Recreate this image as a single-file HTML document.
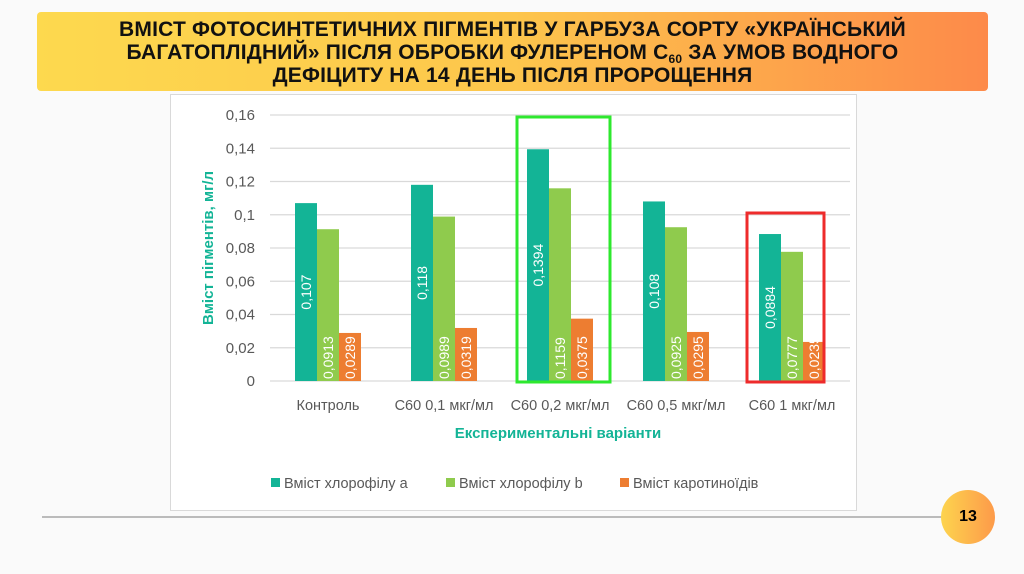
<!DOCTYPE html>
<html><head><meta charset="utf-8"><style>
body{margin:0;width:1024px;height:574px;background:#fafafa;overflow:hidden;font-family:"Liberation Sans","DejaVu Sans",sans-serif;position:relative}
#title{position:absolute;left:37px;top:12px;width:951px;height:79px;box-sizing:border-box;padding-top:6px;border-radius:4px;background:linear-gradient(90deg,#fdd94e,#fdc64c 50%,#fd8a4a);text-align:center;font-weight:bold;font-size:21px;line-height:23px;color:#111;font-family:"Liberation Sans",sans-serif;white-space:nowrap;letter-spacing:0.2px}
#title sub{font-size:12px;line-height:0;vertical-align:-4px}
#chart{position:absolute;left:0;top:0}
#line{position:absolute;left:42px;top:516px;width:900px;height:2px;background:#bbb}
#pg{position:absolute;left:941px;top:490px;width:54px;height:54px;border-radius:50%;background:linear-gradient(90deg,#fdd44e,#fd9a4a);font-weight:bold;font-size:16px;display:flex;align-items:center;justify-content:center}
</style></head><body>
<div id="title">ВМІСТ ФОТОСИНТЕТИЧНИХ ПІГМЕНТІВ У ГАРБУЗА СОРТУ «УКРАЇНСЬКИЙ<br>БАГАТОПЛІДНИЙ» ПІСЛЯ ОБРОБКИ ФУЛЕРЕНОМ С<sub>60</sub> ЗА УМОВ ВОДНОГО<br>ДЕФІЦИТУ НА 14 ДЕНЬ ПІСЛЯ ПРОРОЩЕННЯ</div>
<svg id="chart" width="1024" height="574">
<rect x="170.5" y="94.5" width="686" height="416" fill="#fff" stroke="#d9d9d9"/>
<g id="g"></g>
</svg>
<div id="line"></div>
<div id="pg">13</div>
<script>
const categories=["Контроль","C60 0,1 мкг/мл","C60 0,2 мкг/мл","C60 0,5 мкг/мл","C60 1 мкг/мл"];
const chlA=[0.107,0.118,0.1394,0.108,0.0884];
const chlB=[0.0913,0.0989,0.1159,0.0925,0.0777];
const carot=[0.0289,0.0319,0.0375,0.0295,0.0235];
const yTicks=[0,0.02,0.04,0.06,0.08,0.1,0.12,0.14,0.16];
const yLabels=["0","0,02","0,04","0,06","0,08","0,1","0,12","0,14","0,16"];
const seriesNames=["Вміст хлорофілу a","Вміст хлорофілу b","Вміст каротиноїдів"];
const colors=["#13b496","#8fcb4d","#ed7d31"];
const NS="http://www.w3.org/2000/svg",g=document.getElementById('g');
const x0=270,cw=116,y0=381,ymax=0.16,yh=266;
const Y=v=>y0-v/ymax*yh;
const X=i=>x0+cw*i+cw/2;
function mk(t,a,txt){const e=document.createElementNS(NS,t);for(const k in a)e.setAttribute(k,a[k]);if(txt!=null)e.textContent=txt;g.appendChild(e);return e;}
yTicks.forEach((t,i)=>{
 const l=mk('line',{x1:x0,x2:850,y1:Y(t),y2:Y(t),stroke:'#d9d9d9','stroke-width':1.3});
 
 
 const tx=mk('text',{x:255,y:Y(t)+5,'text-anchor':'end','font-size':15,fill:'#595959'},yLabels[i]);
 
 
});
const fmt=v=>String(v).replace('.',',');
[chlA,chlB,carot].forEach((s,si)=>{
 s.forEach((v,i)=>{
  const bx=X(i)-33+si*22;
  const r=mk('rect',{x:bx,y:Y(v),width:22,height:y0-Y(v),fill:colors[si]});
  
  
  const cx=bx+11+5;
  const lbl=mk('text',{x:0,y:0,'font-size':14,fill:'#fff',transform:`translate(${cx},${si==0?Y(v/2):y0-2}) rotate(-90)`,'text-anchor':si==0?'middle':'start'},fmt(v));
  
  
 });
});
categories.forEach((c,i)=>{
 const t=mk('text',{x:X(i),y:410,'text-anchor':'middle','font-size':14.5,fill:'#595959'},c);
 
 
});
const xt=mk('text',{x:558,y:438,'text-anchor':'middle','font-size':15,'font-weight':'bold',fill:'#13b496'},'Експериментальні варіанти');


const yt=mk('text',{x:0,y:0,transform:'translate(213,248) rotate(-90)','text-anchor':'middle','font-size':15,'font-weight':'bold',fill:'#13b496'},'Вміст пігментів, мг/л');


const lx=[271,446,620];
seriesNames.forEach((n,i)=>{
 const r=mk('rect',{x:lx[i],y:478,width:9,height:9,fill:colors[i]});
 
 
 const t=mk('text',{x:lx[i]+13,y:488,'font-size':14.5,fill:'#595959'},n);
 
 
});
const b1=mk('rect',{x:517,y:117,width:93,height:265,fill:'none',stroke:'#2ee82e','stroke-width':3});


const b2=mk('rect',{x:747,y:213,width:77,height:169,fill:'none',stroke:'#ee2b2b','stroke-width':3});


</script>
</body></html>
